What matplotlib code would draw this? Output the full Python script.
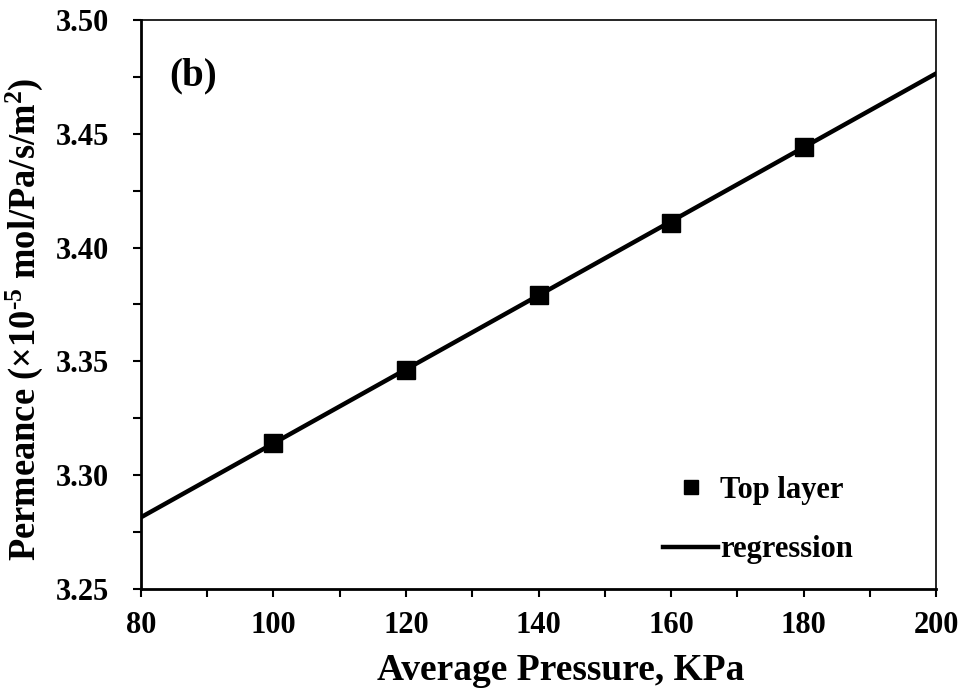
import matplotlib.pyplot as plt
from matplotlib.ticker import MultipleLocator, FormatStrFormatter

pressure = [100, 120, 140, 160, 180]
permeance = [3.314, 3.346, 3.379, 3.411, 3.444]

fit_x = [80, 200]
fit_y = [3.2815, 3.4765]

plt.rcParams['font.family'] = 'Liberation Serif'
plt.rcParams['font.weight'] = 'bold'
plt.rcParams['mathtext.fontset'] = 'custom'
plt.rcParams['mathtext.rm'] = 'Liberation Serif:bold'
plt.rcParams['mathtext.it'] = 'Liberation Serif:bold:italic'
plt.rcParams['mathtext.bf'] = 'Liberation Serif:bold'

fig = plt.figure(figsize=(9.63, 6.90), dpi=100)
ax = fig.add_axes([0.1464, 0.1464, 0.8256, 0.8246])

ax.plot(fit_x, fit_y, color='black', linewidth=3.2, label='regression', zorder=2)
ax.plot(pressure, permeance, linestyle='none', marker='s', markersize=13,
        color='black', label='Top layer', zorder=3)

ax.set_xlim(80, 200)
ax.set_ylim(3.25, 3.50)
ax.xaxis.set_major_locator(MultipleLocator(20))
ax.xaxis.set_minor_locator(MultipleLocator(10))
ax.yaxis.set_major_locator(MultipleLocator(0.05))
ax.yaxis.set_minor_locator(MultipleLocator(0.025))
ax.yaxis.set_major_formatter(FormatStrFormatter('%.2f'))

ax.tick_params(which='both', direction='out', length=6, width=1.5,
               top=False, right=False, labelsize=22)
ax.tick_params(axis='x', which='both', pad=10)
ax.tick_params(axis='y', which='both', pad=17)
for side in ['left', 'bottom']:
    ax.spines[side].set_linewidth(2)
for side in ['top', 'right']:
    ax.spines[side].set_linewidth(1.2)

ax.set_xlabel('Average Pressure, KPa', fontsize=27, fontweight='bold')
ax.xaxis.set_label_coords(0.528, -0.112)
ax.set_ylabel('Permeance (\u00d710$^{\\text{-}\\mathrm{5}}$ mol/Pa/s/m$^{\\mathrm{2}}$)',
              fontsize=26.3, fontweight='bold')
ax.yaxis.set_label_coords(-0.121, 0.474)

ax.text(0.035, 0.885, '(b)', transform=ax.transAxes, fontsize=28, fontweight='bold')

handles, labels = ax.get_legend_handles_labels()
ax.legend(handles[::-1], labels[::-1], loc='lower right', frameon=False,
          fontsize=22, handlelength=1.8, handletextpad=0.05, labelspacing=1.0,
          markerscale=0.8, bbox_to_anchor=(0.93, -0.005))

fig.savefig('out.png', dpi=100)
